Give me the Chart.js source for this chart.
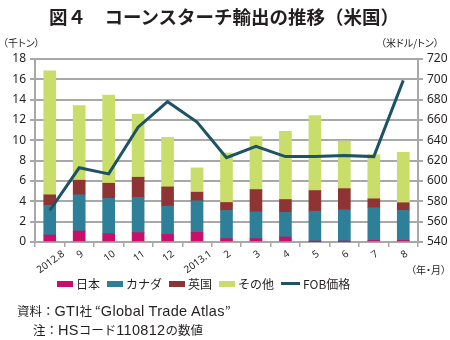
<!DOCTYPE html>
<html>
<head>
<meta charset="utf-8">
<script src="https://cdn.jsdelivr.net/npm/chart.js@4"></script>
<style>
  body { margin: 0; background: #fff; font-family: "Noto Sans CJK JP", "Noto Sans", sans-serif; color: #231f20; }
  #wrap { position: relative; width: 450px; height: 340px; overflow: hidden; }
  #wrap canvas { position: absolute; left: 0; top: 0; }
  .txt { position: absolute; white-space: nowrap; line-height: 1; }
  #title { left: 0; width: 450px; text-align: center; top: 7px; font-size: 18.5px; font-weight: 600; padding-right: 2px; box-sizing: border-box; }
  .unit { font-size: 10px; font-feature-settings: "palt"; }
  #legend { position: absolute; left: 57px; top: 275px; font-size: 12px; display: flex; align-items: center; }
  #legend span.item { display: flex; align-items: center; margin-right: 7px; }
  #legend i { display: inline-block; width: 16px; height: 6px; margin-right: 3px; }
  #legend i.line { height: 3px; width: 19px; }
  .note { font-size: 12.5px; }
  .note .lat { font-family: "Liberation Sans", sans-serif; font-size: 14.5px; letter-spacing: 0.3px; }
</style>
</head>
<body>
<div id="wrap">
  <canvas id="chart" width="450" height="340"></canvas>
  <div class="txt" id="title">図４　コーンスターチ輸出の推移（米国）</div>
  <div class="txt unit" style="left:3px; top:38px;">（千トン）</div>
  <div class="txt unit" style="left:381px; top:38px;">（米ドル/トン）</div>
  <div class="txt unit" style="left:411px; top:265px;">（年・月）</div>
  <div id="legend"></div>
  <div class="txt note" style="left:17px; top:304px;">資料：<span class="lat">GTI</span>社 “<span class="lat">Global Trade Atlas</span>”</div>
  <div class="txt note" style="left:33px; top:323px;">注：<span class="lat">HS</span>コード<span class="lat">110812</span>の数値</div>
</div>
<script>
// months (year.month)
const months = ["2012.8", "9", "10", "11", "12", "2013.1", "2", "3", "4", "5", "6", "7", "8"];

// export volume by destination, thousand tons
const japan = [0.69, 1.08, 0.82, 0.92, 0.75, 0.95, 0.33, 0.33, 0.49, 0.03, 0.03, 0.16, 0.16];
const canada = [2.91, 3.56, 3.46, 3.46, 2.78, 3.1, 2.77, 2.64, 2.41, 3.0, 3.13, 3.21, 2.94];
const uk = [1.04, 1.44, 1.5, 1.99, 1.89, 0.85, 0.79, 2.19, 1.28, 2.03, 2.09, 0.88, 0.76];
const others = [12.19, 7.35, 8.66, 6.21, 4.87, 2.39, 4.87, 5.2, 6.7, 7.38, 4.68, 4.35, 4.96];

// FOB price, USD per ton
const fobPrice = [571, 613, 607, 653, 678, 658, 623, 634, 624, 624, 625, 624, 699];

const seriesNames = ["日本", "カナダ", "英国", "その他", "FOB価格"];
const colors = ["#c8106a", "#2e8098", "#8f3434", "#c9dd6b", "#1d5363"];

const gridColor = "#a8a8a8";
const tickFont = { family: "'Noto Sans', sans-serif", size: 12 };

function barSet(i, values) {
  return {
    type: "bar",
    label: seriesNames[i],
    data: values,
    backgroundColor: colors[i],
    stack: "vol",
    yAxisID: "y",
    barThickness: 12,
    order: 1,
  };
}

// x labels: slanted, with their bounding box centred under the tick
const slantLabels = {
  id: "slantLabels",
  afterDraw(chart) {
    const c = chart.ctx;
    const xs = chart.scales.x;
    const angle = 36 * Math.PI / 180;
    const h = 7;
    c.save();
    c.font = "10px 'Noto Sans', sans-serif";
    c.fillStyle = "#231f20";
    c.textAlign = "center";
    c.textBaseline = "middle";
    months.forEach((m, i) => {
      const w = c.measureText(m).width;
      const boxH = w * Math.sin(angle) + h * Math.cos(angle);
      const px = xs.getPixelForValue(i);
      c.save();
      c.translate(px + 1, xs.top + 8 + boxH / 2);
      c.rotate(-angle);
      c.fillText(m, 0, 0);
      c.restore();
    });
    c.restore();
  },
};

const ctx = document.getElementById("chart").getContext("2d");

new Chart(ctx, {
  data: {
    labels: months,
    datasets: [
      barSet(0, japan),
      barSet(1, canada),
      barSet(2, uk),
      barSet(3, others),
      {
        type: "line",
        label: seriesNames[4],
        data: fobPrice,
        borderColor: colors[4],
        backgroundColor: colors[4],
        borderWidth: 3,
        pointRadius: 0,
        tension: 0,
        yAxisID: "y1",
        order: 0,
      },
    ],
  },
  options: {
    responsive: false,
    animation: false,
    layout: { padding: { top: 59, bottom: 66, left: 0, right: 0 } },
    plugins: {
      legend: { display: false },
      tooltip: { enabled: false },
    },
    scales: {
      x: {
        stacked: true,
        offset: true,
        grid: { display: true, drawOnChartArea: false, offset: true, tickLength: 5, color: gridColor, lineWidth: 1.5 },
        border: { color: gridColor, width: 1.5 },
        ticks: { display: false },
        afterFit: (s) => { s.height = 32; },
      },
      y: {
        stacked: true,
        position: "left",
        min: 0,
        max: 18,
        ticks: { stepSize: 2, color: "#231f20", font: tickFont, padding: 4 },
        grid: { color: gridColor, lineWidth: 2, tickLength: 5 },
        border: { color: gridColor, width: 2 },
        afterFit: (s) => { s.width = 35; },
      },
      y1: {
        position: "right",
        min: 540,
        max: 720,
        ticks: { stepSize: 20, color: "#231f20", font: tickFont, padding: 4 },
        grid: { drawOnChartArea: false, color: gridColor, lineWidth: 2, tickLength: 5 },
        border: { color: gridColor, width: 2 },
        afterFit: (s) => { s.width = 32; },
      },
    },
  },
  plugins: [slantLabels],
});

// legend
const legend = document.getElementById("legend");
seriesNames.forEach((name, i) => {
  const item = document.createElement("span");
  item.className = "item";
  item.innerHTML = `<i class="${i === 4 ? "line" : ""}" style="background:${colors[i]}"></i>${name}`;
  legend.appendChild(item);
});
</script>
</body>
</html>
